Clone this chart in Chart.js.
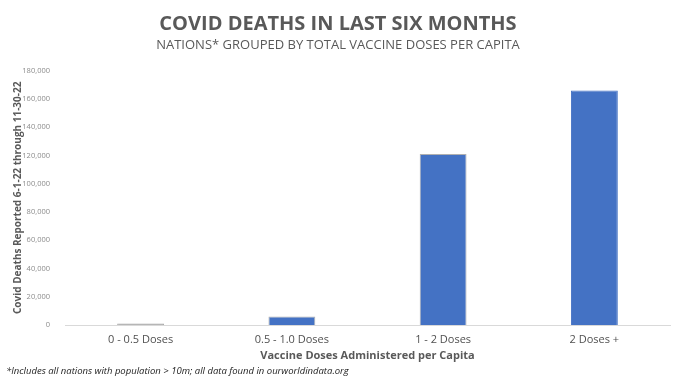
<!DOCTYPE html>
<html>
<head>
<meta charset="utf-8">
<script src="https://cdn.jsdelivr.net/npm/chart.js@4.4.1/dist/chart.umd.min.js"></script>
<style>
  html, body { margin: 0; padding: 0; background: #fff; }
  #wrap { position: relative; width: 680px; height: 381px; }
  #note {
    position: absolute; left: 6px; top: 364px;
    font: italic 9.5px "Open Sans", sans-serif; color: #222;
  }
</style>
</head>
<body>
<div id="wrap">
  <canvas id="chart" width="680" height="381"></canvas>
  <div id="note">*Includes all nations with population &gt; 10m; all data found in ourworldindata.org</div>
</div>
<script>
// values
var categories = ['0 - 0.5 Doses', '0.5 - 1.0 Doses', '1 - 2 Doses', '2 Doses +'];
var deaths = [1000, 6000, 121000, 166000];
var yTicks = [0, 20000, 40000, 60000, 80000, 100000, 120000, 140000, 160000, 180000];

var GRAY = '#595959';
var BLUE = '#4472C4';

new Chart(document.getElementById('chart'), {
  type: 'bar',
  data: {
    labels: categories,
    datasets: [{
      data: deaths,
      backgroundColor: ['#a6a6a6', BLUE, BLUE, BLUE],
      borderColor: ['#a6a6a6', '#b0b0b0', '#b0b0b0', BLUE],
      borderWidth: 1,
      borderSkipped: 'start',
      barPercentage: 0.31,
      categoryPercentage: 1
    }]
  },
  options: {
    responsive: false,
    animation: false,
    layout: { padding: { left: 6, right: 10, top: 0, bottom: 19 } },
    plugins: {
      legend: { display: false },
      tooltip: { enabled: false },
      title: {
        display: true,
        text: 'COVID DEATHS IN LAST SIX MONTHS',
        color: GRAY,
        font: { family: 'Open Sans', size: 20, weight: 'bold' },
        padding: { top: 12, bottom: 1 }
      },
      subtitle: {
        display: true,
        text: 'NATIONS* GROUPED BY TOTAL VACCINE DOSES PER CAPITA',
        color: GRAY,
        font: { family: 'Open Sans', size: 13 },
        padding: { top: 0, bottom: 18 }
      }
    },
    scales: {
      x: {
        afterFit: function (axis) { axis.height = 37; },
        grid: { display: false, drawTicks: false },
        border: { color: '#d9d9d9' },
        ticks: {
          color: '#505050',
          font: { family: 'Open Sans', size: 11 },
          padding: 8,
          maxRotation: 0
        },
        title: {
          display: true,
          text: 'Vaccine Doses Administered per Capita',
          color: GRAY,
          font: { family: 'Open Sans', size: 11, weight: 'bold' },
          padding: { top: 0, bottom: 0 }
        }
      },
      y: {
        min: 0,
        max: 180000,
        afterBuildTicks: function (axis) {
          axis.ticks = yTicks.map(function (v) { return { value: v }; });
        },
        afterFit: function (axis) { axis.width = 59; },
        grid: { display: false, drawTicks: false },
        border: { display: false },
        ticks: {
          color: '#8c8c8c',
          font: { family: 'Open Sans', size: 7.5 },
          padding: 15,
          callback: function (v) { return v.toLocaleString('en-US'); }
        },
        title: {
          display: true,
          text: 'Covid Deaths Reported 6-1-22 through 11-30-22',
          color: GRAY,
          font: { family: 'Open Sans', size: 10, weight: 'bold' },
          padding: { top: 6, bottom: 0 }
        }
      }
    }
  }
});
</script>
</body>
</html>
